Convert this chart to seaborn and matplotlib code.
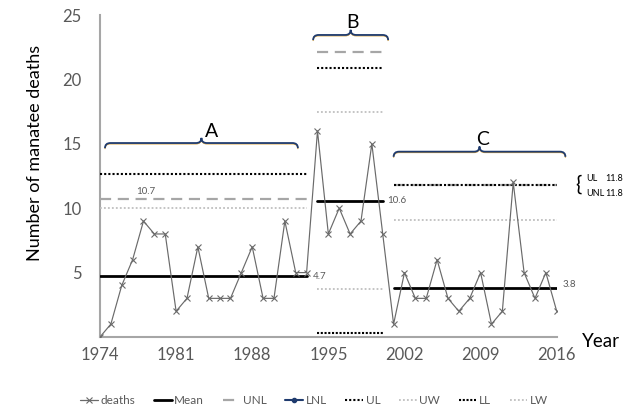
import numpy as np
import pandas as pd
import matplotlib
matplotlib.use("Agg")
import matplotlib.pyplot as plt
from matplotlib.path import Path
from matplotlib.patches import PathPatch
from matplotlib.lines import Line2D
import seaborn as sns

# ---------------- data ----------------
years = list(range(1974, 2017))
deaths = [0, 1, 4, 6, 9, 8, 8, 2, 3, 7, 3, 3, 3, 5, 7, 3, 3, 9, 5, 5,
          16, 8, 10, 8, 9, 15, 8,
          1, 5, 3, 3, 6, 3, 2, 3, 5, 1, 2, 12, 5, 3, 5, 2]

seg_names = ["A", "B", "C"]
seg_start = [1974, 1994, 2001]
seg_end = [1993, 2000, 2016]
mean_vals = [4.7, 10.57, 3.81]
unl_vals = [10.74, 22.1, 11.8]
ul_vals = [12.63, 20.9, 11.8]
uw_vals = [10.04, 17.5, 9.1]
ll_vals = [None, 0.29, None]
lw_vals = [None, 3.75, None]

ytick_vals = [5, 10, 15, 20, 25]
xtick_vals = [1974, 1981, 1988, 1995, 2002, 2009, 2016]

# ---------------- style ----------------
sns.set_theme(style="white")
plt.rcParams['font.family'] = ['Lato', 'DejaVu Sans']
TXT = "#595959"

fig = plt.figure(figsize=(6.28, 4.19), dpi=100)
ax = fig.add_axes([0.1592, 0.1957, 0.8865 - 0.1592, 0.9642 - 0.1957])

df = pd.DataFrame({"year": years, "deaths": deaths})
sns.lineplot(data=df, x="year", y="deaths", ax=ax, color="#6a6a6a",
             linewidth=0.85, marker="x", markersize=4, markeredgewidth=0.8,
             markeredgecolor="#6a6a6a", zorder=5)

styles = {
    "Mean": dict(color="black", linewidth=2.0, linestyle="-"),
    "UNL": dict(color="#a6a6a6", linewidth=1.6, linestyle=(0, (5, 3))),
    "UL": dict(color="black", linewidth=1.5, linestyle=(0, (1, 1))),
    "UW": dict(color="#bfbfbf", linewidth=1.3, linestyle=(0, (1, 1.2))),
    "LL": dict(color="black", linewidth=1.5, linestyle=(0, (1, 0.8))),
    "LW": dict(color="#bfbfbf", linewidth=1.3, linestyle=(0, (1, 1.2))),
}
limits = {"Mean": mean_vals, "UNL": unl_vals, "UL": ul_vals,
          "UW": uw_vals, "LL": ll_vals, "LW": lw_vals}

for name, vals in limits.items():
    for s, e, v in zip(seg_start, seg_end, vals):
        if v is None:
            continue
        seg = pd.DataFrame({"year": [s, e], "val": [v, v]})
        ax.plot(seg["year"], seg["val"], zorder=3, **styles[name])

# axes
ax.set_xlim(1974, 2016)
ax.set_ylim(0, 25)
ax.set_xticks(xtick_vals)
ax.set_yticks(ytick_vals)
ax.tick_params(axis="both", colors=TXT, labelsize=12, length=0)
ax.tick_params(axis="y", pad=13)
ax.tick_params(axis="x", pad=7)
for side in ["top", "right"]:
    ax.spines[side].set_visible(False)
for side in ["left", "bottom"]:
    ax.spines[side].set_color("#a6a6a6")
    ax.spines[side].set_linewidth(1.5)
ax.set_xlabel("")
ax.set_ylabel("Number of manatee deaths", fontsize=13, color="black")
ax.yaxis.set_label_coords(-0.124, 0.571)
fig.text(601 / 628, 1 - 341 / 419, "Year", fontsize=13.5, ha="center",
         va="center", color="black")

# value annotations
small = dict(fontsize=7, color=TXT, va="center")
ax.text(1978.25, 11.26, "10.7", ha="center", **small)
ax.text(1993.6, 4.7, "4.7", ha="left", **small)
ax.text(2000.45, 10.6, "10.6", ha="left", **small)
ax.text(2016.5, 4.05, "3.8", ha="left", **small)
ax.text(2018.0, 11.85, "{", fontsize=15, color="black", ha="center",
        va="center", clip_on=False)
ax.text(2018.7, 12.34, "UL", fontsize=6.5, color="black", ha="left",
        va="center", clip_on=False)
ax.text(2020.5, 12.34, "11.8", fontsize=6.5, color="black", ha="left",
        va="center", clip_on=False)
ax.text(2018.7, 11.18, "UNL", fontsize=6.5, color="black", ha="left",
        va="center", clip_on=False)
ax.text(2020.5, 11.18, "11.8", fontsize=6.5, color="black", ha="left",
        va="center", clip_on=False)


# curly braces
def brace(x0, x1, y, h, r, color, lw, z):
    xm = (x0 + x1) / 2
    verts = [(x0, y - h), (x0, y), (x0 + r, y),
             (xm - r, y),
             (xm, y), (xm, y + h),
             (xm, y), (xm + r, y),
             (x1 - r, y),
             (x1, y), (x1, y - h)]
    codes = [Path.MOVETO, Path.CURVE3, Path.CURVE3, Path.LINETO,
             Path.CURVE3, Path.CURVE3, Path.CURVE3, Path.CURVE3,
             Path.LINETO, Path.CURVE3, Path.CURVE3]
    ax.add_patch(PathPatch(Path(verts, codes), facecolor="none",
                           edgecolor=color, linewidth=lw, zorder=z,
                           clip_on=False))


brace_x0 = [1974.46, 1993.6, 2001.0]
brace_x1 = [1992.2, 2000.5, 2016.8]
brace_y = [15.06, 23.45, 14.39]
label_pos = [(1984.3, 15.95), (1997.2, 24.4), (2009.2, 15.3)]
for name, x0, x1, y, (lx, ly) in zip(seg_names, brace_x0, brace_x1,
                                     brace_y, label_pos):
    brace(x0, x1, y - 0.07, 0.4, 0.5, "#d9a441", 0.8, 6)
    brace(x0, x1, y, 0.4, 0.5, "#1f3b6e", 1.3, 7)
    ax.text(lx, ly, name, fontsize=14, color="black", ha="center",
            va="center", clip_on=False)

# legend
handles = [
    Line2D([], [], color="#6a6a6a", linewidth=0.9, marker="x",
           markersize=4, markeredgewidth=0.8),
    Line2D([], [], **styles["Mean"]),
    Line2D([], [], **styles["UNL"]),
    Line2D([], [], color="#1f3b6e", linewidth=1.5, marker="o",
           markersize=3),
    Line2D([], [], **styles["UL"]),
    Line2D([], [], **styles["UW"]),
    Line2D([], [], **styles["LL"]),
    Line2D([], [], **styles["LW"]),
]
labels = ["deaths", "Mean", "UNL", "LNL", "UL", "UW", "LL", "LW"]
leg = fig.legend(handles, labels, loc="center", bbox_to_anchor=(0.5, 0.045),
                 ncol=8, frameon=False, fontsize=8.5, handlelength=1.5,
                 handletextpad=0.2, columnspacing=1.6)
for t in leg.get_texts():
    t.set_color(TXT)

fig.savefig("out.png", dpi=100)
